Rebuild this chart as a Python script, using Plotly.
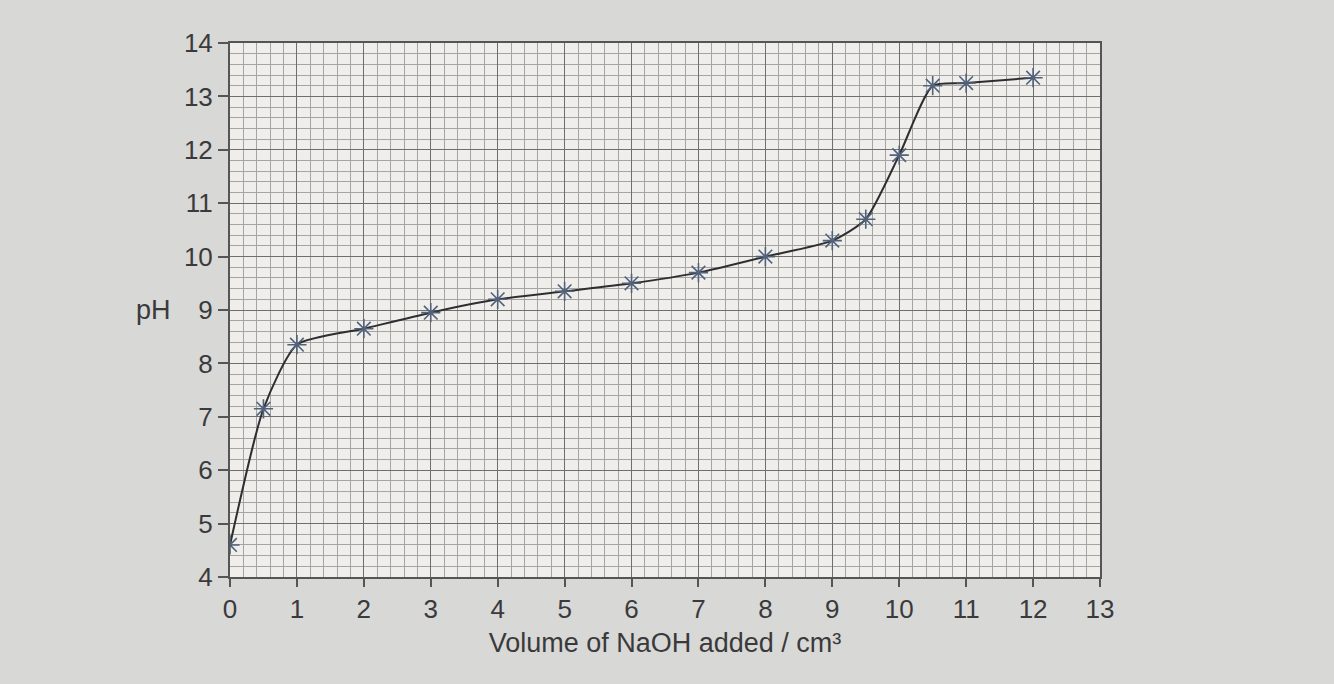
import plotly.graph_objects as go

# titration readings
volume = [0, 0.5, 1, 2, 3, 4, 5, 6, 7, 8, 9, 9.5, 10, 10.5, 11, 12]
ph = [4.6, 7.15, 8.35, 8.65, 8.95, 9.2, 9.35, 9.5, 9.7, 10.0, 10.3, 10.7, 11.9, 13.2, 13.25, 13.35]

x_ticks = list(range(0, 14))
y_ticks = list(range(4, 15))

font = "Liberation Sans, Arial, sans-serif"
ink = "#3a3a3c"

curve = go.Scatter(
    x=volume, y=ph, mode="lines+markers",
    line=dict(color="#2e2e30", width=2, shape="spline", smoothing=0.6),
    marker=dict(symbol="asterisk-open", size=16, color="#52627a",
                line=dict(color="#52627a", width=1.6)),
    showlegend=False,
)

fig = go.Figure(data=[curve])

grid_minor = dict(dtick=0.2, showgrid=True, gridcolor="#a4a4a4", gridwidth=1, ticks="")

fig.update_xaxes(
    range=[0, 13], tickvals=x_ticks, showgrid=True, gridcolor="#6e6e6e", gridwidth=1.2,
    minor=grid_minor, zeroline=False, showline=True, linecolor="#555", linewidth=2,
    mirror=True, ticks="outside", ticklen=8, tickcolor="#555", tickwidth=1.5,
    tickfont=dict(family=font, size=26, color=ink),
    title=dict(text="Volume of NaOH added / cm³",
               font=dict(family=font, size=27, color=ink), standoff=10),
)
fig.update_yaxes(
    range=[4, 14], tickvals=y_ticks, showgrid=True, gridcolor="#6e6e6e", gridwidth=1.2,
    minor=grid_minor, zeroline=False, showline=True, linecolor="#555", linewidth=2,
    mirror=True, ticks="outside", ticklen=10, tickcolor="#555", tickwidth=1.5,
    tickfont=dict(family=font, size=26, color=ink),
)

fig.add_annotation(text="pH", x=-0.088, xref="paper", y=9, yref="y",
                   showarrow=False, xanchor="center",
                   font=dict(family=font, size=27, color=ink))

fig.update_layout(
    width=1334, height=684,
    margin=dict(l=230, r=234, t=43, b=107),
    paper_bgcolor="#d8d8d6",
    plot_bgcolor="#efeeeb",
)

fig.write_html("out.html", config={"displayModeBar": False},
               post_script="document.body.style.margin='0';")
